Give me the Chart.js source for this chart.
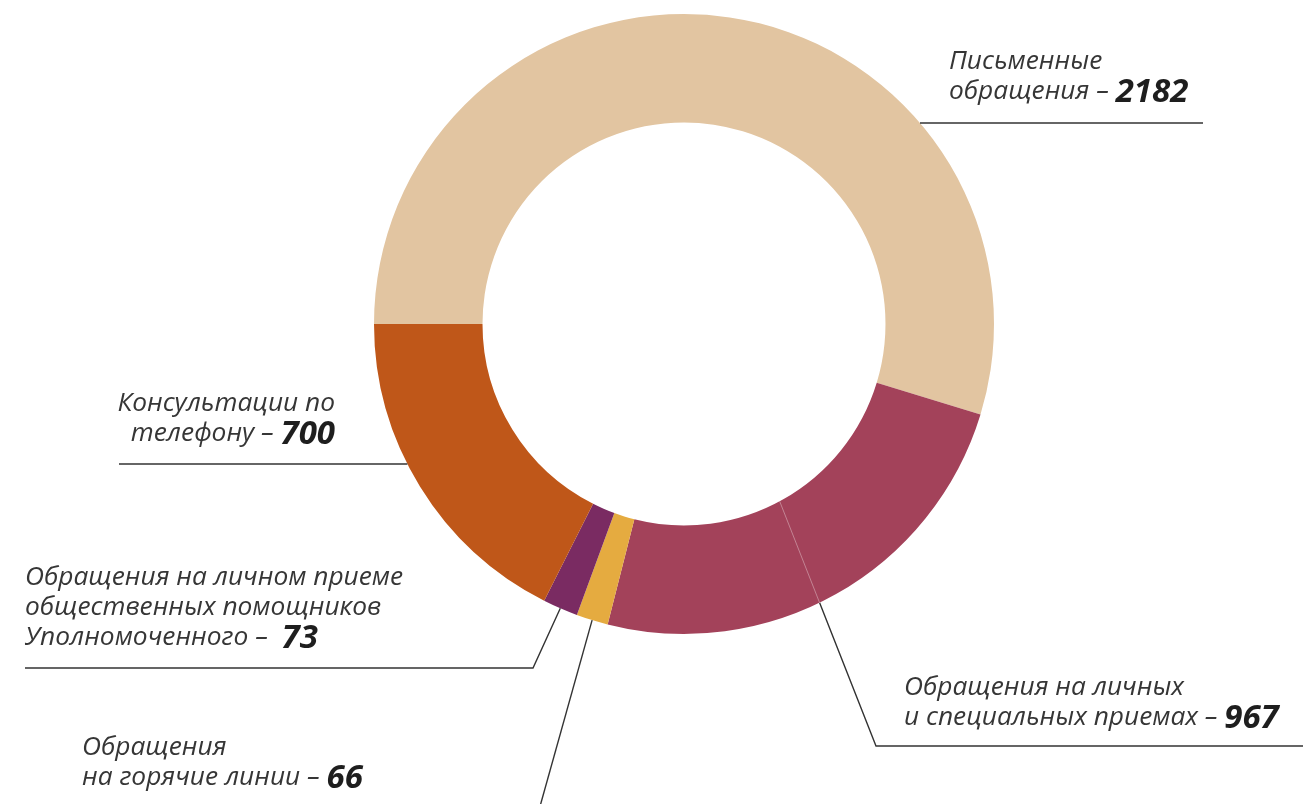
<!DOCTYPE html>
<html>
<head>
<meta charset="utf-8">
<script src="https://cdn.jsdelivr.net/npm/chart.js@4"></script>
<style>
  html, body { margin: 0; padding: 0; background: #ffffff; }
  #wrap { width: 1303px; height: 804px; position: relative; }
</style>
</head>
<body>
<div id="wrap"><canvas id="c" width="1303" height="804"></canvas></div>
<script>
// ---- data ----
const categories = [
  "Письменные обращения",
  "Обращения на личных и специальных приемах",
  "Обращения на горячие линии",
  "Обращения на личном приеме общественных помощников Уполномоченного",
  "Консультации по телефону"
];
const values = [2182, 967, 66, 73, 700];
const colors = ["#E2C5A1", "#A3425A", "#E5AB40", "#7A2B62", "#BF5719"];

// label text lines (value appended in bold on last line)
const labelLines = [
  ["Письменные", "обращения – "],
  ["Обращения на личных", "и специальных приемах – "],
  ["Обращения", "на горячие линии – "],
  ["Обращения на личном приеме", "общественных помощников", "Уполномоченного –  "],
  ["Консультации по", "телефону – "]
];

const FONT = '"Open Sans", "DejaVu Sans", sans-serif';
const FS = 26.3;
const NFS = 33;
const LH = 30;

function drawLabel(ctx, idx, x, y, align) {
  const lines = labelLines[idx];
  ctx.textBaseline = 'middle';
  lines.forEach((ln, i) => {
    const yy = y + i * LH;
    const isLast = i === lines.length - 1;
    ctx.font = 'italic 400 ' + FS + 'px ' + FONT;
    const w1 = ctx.measureText(ln).width;
    let w2 = 0;
    const num = String(values[idx]);
    if (isLast) {
      ctx.font = 'italic 700 ' + NFS + 'px ' + FONT;
      w2 = ctx.measureText(num).width;
    }
    let sx = x;
    if (align === 'right') sx = x - (w1 + w2);
    ctx.textAlign = 'left';
    ctx.font = 'italic 400 ' + FS + 'px ' + FONT;
    ctx.fillStyle = '#363636';
    ctx.fillText(ln, sx, yy);
    if (isLast) {
      ctx.font = 'italic 700 ' + NFS + 'px ' + FONT;
      ctx.fillStyle = '#1e1e1e';
      ctx.fillText(num, sx + w1, yy + 1);
    }
  });
}

const labelPlugin = {
  id: 'labelPlugin',
  afterDraw(chart) {
    const ctx = chart.ctx;
    const meta = chart.getDatasetMeta(0);
    const arcs = meta.data;
    const a0 = arcs[0];
    const cx = a0.x, cy = a0.y, R = a0.outerRadius, r = a0.innerRadius;
    const W = chart.width, H = chart.height;
    const mid = (a) => (a.startAngle + a.endAngle) / 2;
    const pt = (ang, rad) => [cx + rad * Math.cos(ang), cy + rad * Math.sin(ang)];

    ctx.save();
    ctx.strokeStyle = '#333333';
    ctx.lineWidth = 1.4;

    // 0: Письменные – horizontal line from outer arc
    {
      const y = 123;
      const x = cx + Math.sqrt(R * R - (y - cy) * (y - cy));
      ctx.beginPath(); ctx.moveTo(x, y); ctx.lineTo(1203, y); ctx.stroke();
      drawLabel(ctx, 0, 949, 62, 'left');
    }
    // 4: Консультации – horizontal line from outer arc on left
    {
      const y = 464;
      const x = cx - Math.sqrt(R * R - (y - cy) * (y - cy));
      ctx.beginPath(); ctx.moveTo(119, y); ctx.lineTo(x, y); ctx.stroke();
      drawLabel(ctx, 4, 335, 404, 'right');
    }
    // 3: purple
    {
      const p = pt(mid(arcs[3]), R);
      ctx.beginPath(); ctx.moveTo(p[0], p[1]); ctx.lineTo(533, 668); ctx.lineTo(25, 668); ctx.stroke();
      drawLabel(ctx, 3, 25, 578, 'left');
    }
    // 2: yellow
    {
      const p = pt(mid(arcs[2]), R);
      ctx.beginPath(); ctx.moveTo(p[0], p[1]); ctx.lineTo(539, 810); ctx.stroke();
      drawLabel(ctx, 2, 82, 748, 'left');
    }
    // 1: red – line starts at inner radius, faint inside the ring
    {
      const ang = mid(arcs[1]) + 0.018;
      const p = pt(ang, r);
      const elbow = [876, 746];
      ctx.save();
      ctx.beginPath(); ctx.arc(cx, cy, R, 0, Math.PI * 2); ctx.clip();
      ctx.strokeStyle = 'rgba(255,255,255,0.35)';
      ctx.lineWidth = 1;
      ctx.beginPath(); ctx.moveTo(p[0], p[1]); ctx.lineTo(elbow[0], elbow[1]); ctx.stroke();
      ctx.restore();
      ctx.save();
      ctx.beginPath(); ctx.rect(0, 0, W, H); ctx.arc(cx, cy, R, 0, Math.PI * 2, true); ctx.clip('evenodd');
      ctx.beginPath(); ctx.moveTo(p[0], p[1]); ctx.lineTo(elbow[0], elbow[1]); ctx.lineTo(W + 5, elbow[1]); ctx.stroke();
      ctx.restore();
      drawLabel(ctx, 1, 904, 688, 'left');
    }
    ctx.restore();
  }
};

new Chart(document.getElementById('c'), {
  type: 'doughnut',
  data: {
    labels: categories,
    datasets: [{
      data: values,
      backgroundColor: colors,
      borderWidth: 0,
      hoverOffset: 0
    }]
  },
  options: {
    responsive: false,
    animation: false,
    rotation: -90,
    cutout: '65%',
    layout: { padding: { top: 14, bottom: 170, left: 374, right: 309 } },
    plugins: { legend: { display: false }, tooltip: { enabled: false } },
    events: []
  },
  plugins: [labelPlugin]
});
</script>
</body>
</html>
